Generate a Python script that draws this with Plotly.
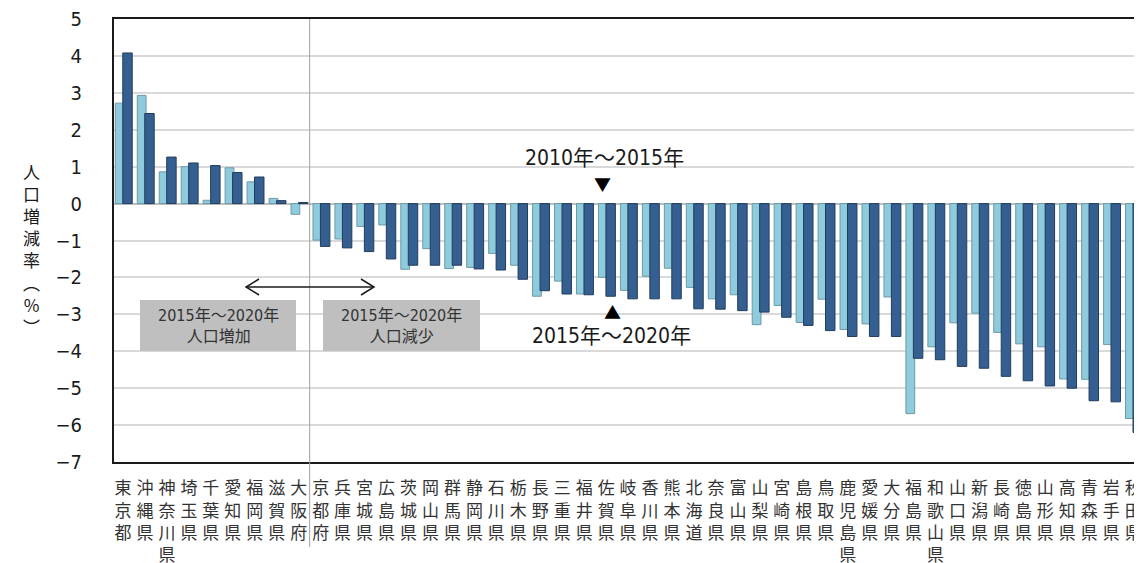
import plotly.graph_objects as go

prefectures = ["東京都", "沖縄県", "神奈川県", "埼玉県", "千葉県", "愛知県", "福岡県", "滋賀県", "大阪府",
               "京都府", "兵庫県", "宮城県", "広島県", "茨城県", "岡山県", "群馬県", "静岡県", "石川県",
               "栃木県", "長野県", "三重県", "福井県", "佐賀県", "岐阜県", "香川県", "熊本県", "北海道",
               "奈良県", "富山県", "山梨県", "宮崎県", "島根県", "鳥取県", "鹿児島県", "愛媛県", "大分県",
               "福島県", "和歌山県", "山口県", "新潟県", "長崎県", "徳島県", "山形県", "高知県", "青森県",
               "岩手県", "秋田県"]

rate_2010_2015 = [2.72, 2.93, 0.86, 1.00, 0.09, 0.97, 0.59, 0.14, -0.29,
                  -0.99, -0.96, -0.62, -0.58, -1.78, -1.22, -1.76, -1.73, -1.35,
                  -1.67, -2.51, -2.10, -2.45, -2.00, -2.35, -1.97, -1.75, -2.27,
                  -2.58, -2.47, -3.28, -2.76, -3.22, -2.59, -3.41, -3.26, -2.53,
                  -5.69, -3.88, -3.23, -2.97, -3.49, -3.80, -3.88, -4.75, -4.76,
                  -3.82, -5.82]

rate_2015_2020 = [4.08, 2.44, 1.26, 1.10, 1.03, 0.84, 0.72, 0.08, 0.03,
                  -1.16, -1.20, -1.30, -1.50, -1.67, -1.67, -1.67, -1.77, -1.80,
                  -2.05, -2.36, -2.45, -2.47, -2.51, -2.58, -2.58, -2.58, -2.85,
                  -2.86, -2.90, -2.94, -3.08, -3.30, -3.44, -3.60, -3.60, -3.60,
                  -4.19, -4.23, -4.41, -4.46, -4.68, -4.80, -4.94, -5.00, -5.34,
                  -5.37, -6.20]

y_ticks = [5, 4, 3, 2, 1, 0, -1, -2, -3, -4, -5, -6, -7]

# the page places the figure 8px from the top-left corner (body margin)
OFF = 8
W, H = 1142 - OFF, 563 - OFF
L, R, T, B = 114 - OFF, 0, 19 - OFF, 101
PW, PH = W - L - R, H - T - B


def px(x):
    """page pixel x -> paper"""
    return (x - OFF - L) / PW


def py(y):
    """page pixel y -> paper"""
    return (H - B - (y - OFF)) / PH


NARROW = "Liberation Sans Narrow, DejaVu Sans Condensed, Noto Sans CJK JP, sans-serif"
CJK = "Noto Sans CJK JP, sans-serif"

fig = go.Figure()
fig.add_trace(go.Bar(
    x=prefectures, y=rate_2010_2015, name="2010年～2015年",
    offset=-0.35, width=0.40,
    marker=dict(color="#8ecbdc", line=dict(color="#6d9aa6", width=1)),
))
fig.add_trace(go.Bar(
    x=prefectures, y=rate_2015_2020, name="2015年～2020年",
    offset=-0.01, width=0.43,
    marker=dict(color="#355f90", line=dict(color="#213c5c", width=1)),
))

shapes = []
# vertical separator between 大阪府 and 京都府
shapes.append(dict(type="line", xref="x", yref="paper", x0=8.5, x1=8.5, y0=py(547), y1=1,
                   line=dict(color="#a0a0a0", width=1)))
# gray boxes
for x0, x1 in [(140, 296), (323, 480)]:
    shapes.append(dict(type="rect", xref="paper", yref="paper", x0=px(x0), x1=px(x1),
                       y0=py(351), y1=py(300), fillcolor="#bfbfbf", line=dict(width=0), layer="above"))
# double arrow
ay = 287
shapes.append(dict(type="line", xref="paper", yref="paper", x0=px(246), x1=px(374), y0=py(ay), y1=py(ay),
                   line=dict(color="#1a1a1a", width=1.5)))
shapes.append(dict(type="path", xref="paper", yref="paper",
                   path=f"M {px(259)} {py(ay-8)} L {px(246)} {py(ay)} L {px(259)} {py(ay+8)}",
                   line=dict(color="#1a1a1a", width=1.5)))
shapes.append(dict(type="path", xref="paper", yref="paper",
                   path=f"M {px(361)} {py(ay-8)} L {px(374)} {py(ay)} L {px(361)} {py(ay+8)}",
                   line=dict(color="#1a1a1a", width=1.5)))

annotations = []
annotations.append(dict(xref="paper", yref="paper", x=px(218), y=py(326), text="2015年～2020年<br>人口増加",
                        showarrow=False, font=dict(family=NARROW, size=16, color="#333333"),
                        xanchor="center", yanchor="middle"))
annotations.append(dict(xref="paper", yref="paper", x=px(401.5), y=py(326), text="2015年～2020年<br>人口減少",
                        showarrow=False, font=dict(family=NARROW, size=16, color="#333333"),
                        xanchor="center", yanchor="middle"))
annotations.append(dict(xref="paper", yref="paper", x=px(604), y=py(158), text="2010年～2015年",
                        showarrow=False, font=dict(family=NARROW, size=21, color="#1a1a1a"),
                        xanchor="center", yanchor="middle"))
annotations.append(dict(xref="paper", yref="paper", x=px(602), y=py(183), text="▼",
                        showarrow=False, font=dict(family=CJK, size=17, color="#000000"),
                        xanchor="center", yanchor="middle"))
annotations.append(dict(xref="paper", yref="paper", x=px(612), y=py(311), text="▲",
                        showarrow=False, font=dict(family=CJK, size=17, color="#000000"),
                        xanchor="center", yanchor="middle"))
annotations.append(dict(xref="paper", yref="paper", x=px(611), y=py(336), text="2015年～2020年",
                        showarrow=False, font=dict(family=NARROW, size=21, color="#1a1a1a"),
                        xanchor="center", yanchor="middle"))
# vertical y-axis title
annotations.append(dict(xref="paper", yref="paper", x=px(31), y=py(249),
                        text="<br>".join(list("人口増減率︵%︶")),
                        showarrow=False, font=dict(family=CJK, size=17, color="#1a1a1a"),
                        xanchor="center", yanchor="middle"))

fig.update_layout(
    width=W, height=H,
    margin=dict(l=L, r=R, t=T, b=B, pad=0, autoexpand=False),
    paper_bgcolor="white", plot_bgcolor="white",
    barmode="overlay", showlegend=False,
    shapes=shapes, annotations=annotations,
    font=dict(family=CJK, color="#333333"),
)
fig.update_xaxes(
    range=[-0.41, 46.4], automargin=False,
    tickvals=prefectures, ticktext=["<br>".join(list(p)) for p in prefectures],
    tickangle=0, ticks="", showgrid=False,
    tickfont=dict(family=CJK, size=17, color="#333333"),
    showline=True, linecolor="#1a1a1a", linewidth=2, mirror=True,
    ticklabelstandoff=10, ticklabeloverflow="allow",
)
fig.update_yaxes(
    range=[-7, 5], tickvals=y_ticks, ticktext=[("−" + str(-v)) if v < 0 else str(v) for v in y_ticks],
    automargin=False,
    showgrid=True, gridcolor="#d9d9d9", gridwidth=1.5,
    zeroline=True, zerolinecolor="#bfbfbf", zerolinewidth=1.5,
    showline=True, linecolor="#1a1a1a", linewidth=2, mirror=False,
    ticks="", tickfont=dict(family=NARROW, size=20, color="#1a1a1a"),
    ticklabelstandoff=26, ticklabeloverflow="allow",
)

fig.write_html("out.html")
